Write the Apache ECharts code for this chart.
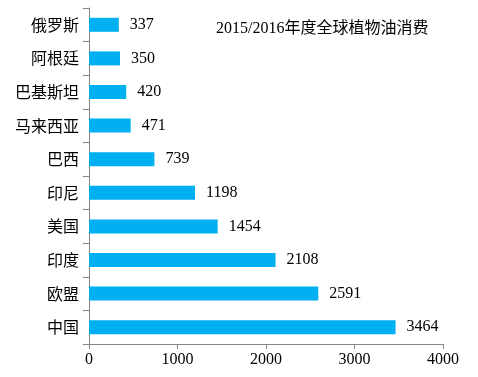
<!DOCTYPE html>
<html><head><meta charset="utf-8">
<script src="https://cdn.jsdelivr.net/npm/echarts@6/dist/echarts.min.js"></script>
<style>html,body{margin:0;padding:0;background:#fff}#c{width:478px;height:377px}</style>
</head><body><div id="c"></div>
<script>
const categories = ['中国','欧盟','印度','美国','印尼','巴西','马来西亚','巴基斯坦','阿根廷','俄罗斯'];
const values = [3464,2591,2108,1454,1198,739,471,420,350,337];
const xTicks = [0,1000,2000,3000,4000];
const titleText = '2015/2016年度全球植物油消费';

const chart = echarts.init(document.getElementById('c'));
chart.setOption({
  animation:false,
  backgroundColor:'#fff',
  title:{text:titleText,left:211,top:16,textStyle:{fontFamily:'Liberation Serif, Noto Sans CJK SC',fontSize:16,fontWeight:'normal',color:'#000'}},
  grid:{left:89,right:35,top:8,bottom:33,containLabel:false},
  xAxis:{type:'value',min:xTicks[0],max:xTicks[xTicks.length-1],interval:1000,
    axisLine:{show:true,lineStyle:{color:'#868686'}},
    axisTick:{show:true,length:5,lineStyle:{color:'#868686'}},
    splitLine:{show:false},
    axisLabel:{fontFamily:'Liberation Serif',fontSize:16,color:'#000',margin:8,formatter:v=>String(v)}},
  yAxis:{type:'category',data:categories,
    axisLine:{lineStyle:{color:'#868686'}},
    axisTick:{show:true,length:6,lineStyle:{color:'#868686'}},
    axisLabel:{fontFamily:'Noto Sans CJK SC',fontSize:16,color:'#000',margin:10}},
  series:[{type:'bar',data:values,barWidth:14,itemStyle:{color:'#00B0F0'},
    label:{show:true,position:'right',distance:11,fontFamily:'Liberation Serif',fontSize:16,color:'#000'}}]
});
</script></body></html>
